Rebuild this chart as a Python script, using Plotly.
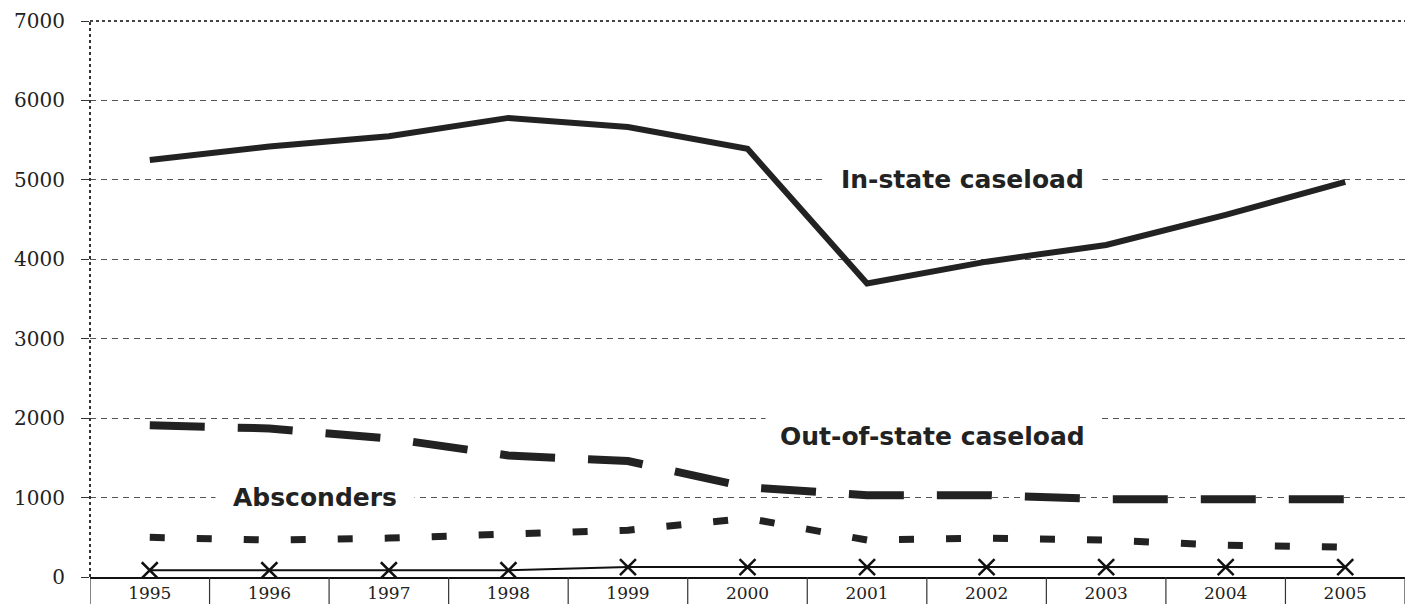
import plotly.graph_objects as go

years = ["1995", "1996", "1997", "1998", "1999", "2000", "2001", "2002", "2003", "2004", "2005"]
in_state = [5250, 5420, 5550, 5780, 5665, 5390, 3695, 3970, 4180, 4560, 4975]
out_state = [1910, 1870, 1745, 1530, 1460, 1130, 1030, 1030, 980, 980, 980]
absconders = [500, 465, 490, 530, 590, 740, 465, 490, 465, 400, 375]
other = [85, 85, 85, 85, 125, 125, 125, 125, 125, 125, 125]
y_ticks = [0, 1000, 2000, 3000, 4000, 5000, 6000, 7000]

fig = go.Figure()
fig.add_trace(go.Scatter(x=years, y=in_state, mode="lines",
                         line=dict(color="#222", width=6)))
fig.add_trace(go.Scatter(x=years, y=out_state, mode="lines",
                         line=dict(color="#222", width=8, dash="55px,33px")))
fig.add_trace(go.Scatter(x=years, y=absconders, mode="lines",
                         line=dict(color="#222", width=7, dash="15px,32px")))
fig.add_trace(go.Scatter(x=years, y=other, mode="lines+markers",
                         line=dict(color="#111", width=2),
                         marker=dict(symbol="x-thin", size=16,
                                     line=dict(color="#111", width=2.5))))

shapes = []
# category separators below the axis
for i in range(len(years) + 1):
    shapes.append(dict(type="line", xref="x", yref="paper", x0=i - 0.5, x1=i - 0.5,
                       y0=0, y1=-0.06, line=dict(color="#333", width=1.2)))
# dotted left axis and top border
shapes.append(dict(type="line", xref="paper", yref="paper", x0=0, x1=0, y0=0, y1=1,
                   line=dict(color="#333", width=2, dash="dot")))
shapes.append(dict(type="line", xref="paper", yref="paper", x0=0, x1=1, y0=1, y1=1,
                   line=dict(color="#444", width=2, dash="dot")))

label_font = dict(family="DejaVu Sans", size=25, color="#222")
annotations = [
    dict(xref="x", yref="y", x=years.index("2001"), y=5000, text="<b>In-state caseload</b>",
         xanchor="left", xshift=-45, yshift=0, showarrow=False, font=label_font,
         bgcolor="white", borderpad=18),
    dict(xref="x", yref="y", x=years.index("2000"), y=2000, text="<b>Out-of-state caseload</b>",
         xanchor="left", xshift=17, yshift=-18, showarrow=False, font=label_font,
         bgcolor="white", borderpad=14),
    dict(xref="x", yref="y", x=years.index("1996"), y=1000, text="<b>Absconders</b>",
         xanchor="left", xshift=-54, showarrow=False, font=label_font,
         bgcolor="white", borderpad=17),
]

fig.update_layout(
    width=1405, height=604,
    margin=dict(l=90, r=0, t=21, b=27),
    plot_bgcolor="white", paper_bgcolor="white",
    showlegend=False,
    shapes=shapes,
    annotations=annotations,
    xaxis=dict(type="category", range=[-0.5, 10.5], showgrid=False, automargin=False,
               showline=True, linecolor="#111", linewidth=2, ticks="",
               tickfont=dict(family="DejaVu Serif", size=17, color="#222"),
               fixedrange=True),
    yaxis=dict(range=[0, 7000], tickvals=y_ticks, showgrid=True, automargin=False,
               gridcolor="#555", griddash="6px,5px", gridwidth=1,
               zeroline=False, showline=False, ticks="outside", ticklen=8,
               tickcolor="#333", ticklabelstandoff=12,
               tickfont=dict(family="DejaVu Serif", size=20, color="#222")),
)

fig.write_html("out.html", config={"displayModeBar": False},
               post_script="document.body.style.margin='0';document.body.style.overflow='hidden';")
